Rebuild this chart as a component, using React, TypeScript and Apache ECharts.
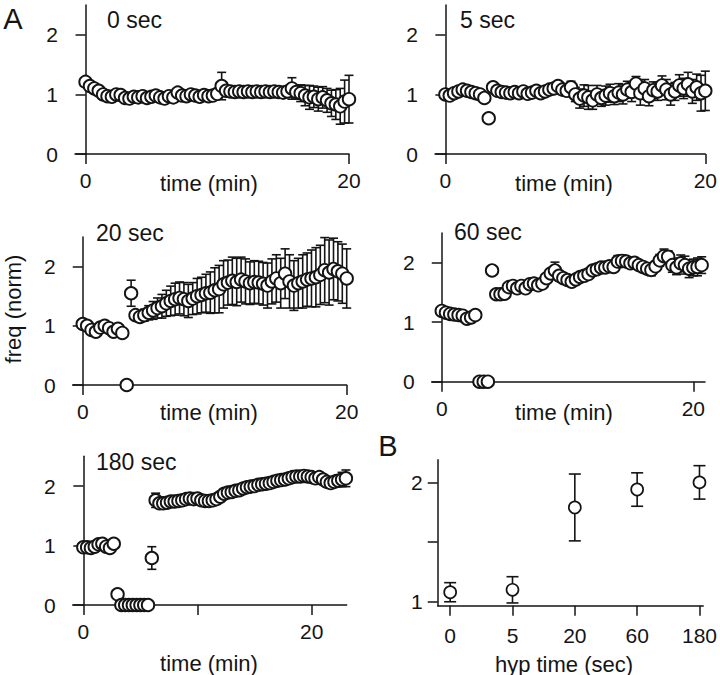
import React, { useEffect, useRef } from "react";
import * as echarts from "echarts";

// ---------- data ----------
const SAMPLE_MIN = 1 / 3; // one sample every 20 s

const TITLES = ["0 sec", "5 sec", "20 sec", "60 sec", "180 sec"];

const HYP0_VALUES = [
  1.21, 1.14, 1.10, 1.06, 1.00, 0.97, 0.96, 1.00, 0.99, 0.94,
  0.93, 0.96, 0.95, 0.97, 0.94, 0.96, 0.98, 0.95, 0.93, 0.97,
  0.95, 1.03, 0.98, 0.97, 1.00, 0.98, 0.96, 0.99, 0.97, 0.98,
  1.01, 1.14, 1.06, 1.05, 1.04, 1.05, 1.04, 1.05, 1.04, 1.05,
  1.04, 1.05, 1.04, 1.05, 1.04, 1.03, 1.05, 1.10, 1.04, 1.02,
  0.98, 0.95, 0.96, 0.92, 0.95, 0.90, 0.85, 0.83, 0.80, 0.88,
  0.92,
];
const HYP0_ERRORS = [
  0.05, 0.04, 0.04, 0.04, 0.04, 0.04, 0.04, 0.04, 0.04, 0.04,
  0.04, 0.04, 0.04, 0.04, 0.04, 0.04, 0.04, 0.04, 0.04, 0.04,
  0.04, 0.04, 0.04, 0.04, 0.04, 0.04, 0.04, 0.04, 0.04, 0.04,
  0.05, 0.23, 0.05, 0.04, 0.04, 0.04, 0.04, 0.04, 0.04, 0.04,
  0.04, 0.04, 0.04, 0.04, 0.05, 0.06, 0.08, 0.18, 0.12, 0.14,
  0.17, 0.20, 0.18, 0.20, 0.18, 0.20, 0.22, 0.25, 0.30, 0.36,
  0.40,
];

const HYP5_VALUES = [
  1.00, 0.98, 1.02, 1.05, 1.08, 1.06, 1.04, 1.02, 1.00, 0.94,
  0.60, 1.12, 1.06, 1.04, 1.03, 1.02, 1.04, 1.02, 1.05, 1.01,
  1.03, 1.06, 1.02, 1.05, 1.08, 1.10, 1.14, 1.08, 1.06, 1.12,
  1.00, 0.93, 0.98, 0.95, 0.90, 1.00, 0.94, 0.98, 1.02, 0.97,
  1.03, 1.00, 1.08, 1.04, 1.18, 1.02, 1.10, 0.97, 1.07, 1.05,
  1.15, 1.08, 1.00, 1.05, 1.15, 1.10, 1.17, 1.05, 1.12, 1.02,
  1.06,
];
const HYP5_ERRORS = [
  0.08, 0.05, 0.04, 0.04, 0.04, 0.04, 0.04, 0.04, 0.04, 0.04,
  0.02, 0.04, 0.04, 0.04, 0.04, 0.04, 0.04, 0.04, 0.04, 0.04,
  0.04, 0.04, 0.04, 0.05, 0.05, 0.06, 0.06, 0.07, 0.08, 0.10,
  0.12, 0.16, 0.18, 0.20, 0.15, 0.15, 0.14, 0.16, 0.15, 0.14,
  0.15, 0.16, 0.14, 0.16, 0.12, 0.20, 0.15, 0.16, 0.14, 0.15,
  0.16, 0.17, 0.18, 0.15, 0.18, 0.17, 0.20, 0.20, 0.22, 0.30,
  0.33,
];

const HYP20_VALUES = [
  1.03, 1.00, 0.93, 0.90, 0.97, 1.00, 0.96, 0.90, 0.95, 0.88,
  0.00, 1.55,
  1.18, 1.15, 1.18, 1.22, 1.26, 1.30, 1.33, 1.38, 1.42, 1.45,
  1.47, 1.45, 1.42, 1.46, 1.50, 1.52, 1.55, 1.56, 1.60, 1.62,
  1.70, 1.73, 1.76, 1.74, 1.78, 1.75, 1.72, 1.74, 1.73, 1.71,
  1.68, 1.75, 1.80, 1.72, 1.88, 1.75, 1.68, 1.72, 1.75, 1.78,
  1.80, 1.82, 1.86, 1.94, 1.90, 1.96, 1.92, 1.88, 1.80,
];
const HYP20_ERRORS = [
  0.06, 0.06, 0.06, 0.06, 0.06, 0.06, 0.06, 0.06, 0.06, 0.06,
  0.00, 0.22,
  0.07, 0.08, 0.10, 0.12, 0.15, 0.17, 0.20, 0.22, 0.25, 0.27,
  0.27, 0.28, 0.28, 0.27, 0.30, 0.30, 0.32, 0.35, 0.38, 0.40,
  0.40, 0.38, 0.40, 0.40, 0.38, 0.38, 0.36, 0.36, 0.36, 0.36,
  0.38, 0.38, 0.40, 0.42, 0.42, 0.45, 0.42, 0.42, 0.45, 0.45,
  0.48, 0.50, 0.50, 0.55, 0.55, 0.52, 0.50, 0.50, 0.50,
];

const HYP60_VALUES = [
  1.19, 1.16, 1.14, 1.13, 1.12, 1.11, 1.06, 1.08, 1.12,
  0.00, 0.00, 0.00, 1.87,
  1.47, 1.47, 1.48, 1.59, 1.61, 1.57, 1.61, 1.57, 1.64, 1.65,
  1.62, 1.65, 1.74, 1.82, 1.87, 1.78, 1.74, 1.71, 1.68, 1.72,
  1.76, 1.78, 1.81, 1.87, 1.89, 1.92, 1.92, 1.94, 1.93, 2.02,
  2.03, 2.02, 1.99, 2.00, 1.96, 1.93, 1.90, 1.88, 1.94, 2.04,
  2.11, 2.10, 1.96, 1.92, 1.99, 1.96, 1.90, 1.92, 1.93, 1.96,
];
const HYP60_ERRORS = [
  0.04, 0.04, 0.04, 0.04, 0.04, 0.04, 0.04, 0.04, 0.04,
  0.00, 0.00, 0.00, 0.04,
  0.04, 0.04, 0.04, 0.04, 0.04, 0.04, 0.04, 0.04, 0.04, 0.04,
  0.04, 0.04, 0.05, 0.06, 0.14, 0.06, 0.05, 0.04, 0.04, 0.04,
  0.04, 0.05, 0.05, 0.05, 0.06, 0.06, 0.07, 0.07, 0.08, 0.10,
  0.10, 0.08, 0.07, 0.06, 0.06, 0.07, 0.08, 0.10, 0.08, 0.10,
  0.12, 0.10, 0.12, 0.12, 0.14, 0.15, 0.15, 0.14, 0.15, 0.14,
];

const HYP180_VALUES = [
  0.97, 0.97, 0.96, 0.98, 1.02, 1.03, 0.98, 0.96, 1.03,
  0.18, 0.00, 0.00, 0.00, 0.00, 0.00, 0.00, 0.00, 0.00, 0.79,
  1.76, 1.71, 1.71, 1.72, 1.74, 1.74, 1.75, 1.76, 1.78, 1.79,
  1.78, 1.79, 1.76, 1.75, 1.75, 1.76, 1.78, 1.82, 1.87, 1.89,
  1.90, 1.92, 1.93, 1.96, 1.98, 1.99, 2.00, 2.02, 2.03, 2.04,
  2.05, 2.07, 2.09, 2.10, 2.11, 2.13, 2.15, 2.16, 2.16, 2.17,
  2.16, 2.15, 2.13, 2.15, 2.11, 2.07, 2.05, 2.07, 2.09, 2.11,
  2.13,
];
const HYP180_ERRORS = [
  0.04, 0.04, 0.04, 0.04, 0.04, 0.04, 0.04, 0.04, 0.04,
  0.04, 0.00, 0.00, 0.00, 0.00, 0.00, 0.00, 0.00, 0.00, 0.19,
  0.12, 0.08, 0.08, 0.08, 0.08, 0.08, 0.08, 0.08, 0.08, 0.08,
  0.08, 0.08, 0.08, 0.08, 0.08, 0.08, 0.08, 0.08, 0.08, 0.08,
  0.08, 0.08, 0.08, 0.08, 0.08, 0.08, 0.08, 0.08, 0.08, 0.08,
  0.08, 0.08, 0.08, 0.08, 0.08, 0.08, 0.08, 0.08, 0.08, 0.08,
  0.08, 0.08, 0.08, 0.08, 0.08, 0.08, 0.08, 0.09, 0.10, 0.12,
  0.14,
];

const B_CATEGORIES = ["0", "5", "20", "60", "180"];
const B_MEANS = [1.08, 1.1, 1.79, 1.94, 2.0];
const B_ERRORS = [0.08, 0.11, 0.28, 0.14, 0.14];

// ---------- layout / style ----------
const FONT = '"Liberation Sans", Arial, Helvetica, sans-serif';
const INK = "#141414";

const PANELS = [
  { values: HYP0_VALUES, errors: HYP0_ERRORS, grid: { left: 75, top: 5, width: 274, height: 149 }, xMin: -0.8, xMax: 20, xTicks: [0, 20], xLabels: [0, 20], title: [107, 20], name: [209, 183] },
  { values: HYP5_VALUES, errors: HYP5_ERRORS, grid: { left: 435, top: 5, width: 274, height: 149 }, xMin: -0.8, xMax: 20, xTicks: [0, 20], xLabels: [0, 20], title: [460, 20], name: [564, 183] },
  { values: HYP20_VALUES, errors: HYP20_ERRORS, grid: { left: 72.7, top: 237, width: 274, height: 148 }, xMin: -0.76, xMax: 20, xTicks: [0, 20], xLabels: [0, 20], title: [96, 233], name: [209, 412] },
  { values: HYP60_VALUES, errors: HYP60_ERRORS, grid: { left: 431.7, top: 233, width: 273.3, height: 148.7 }, xMin: -0.8, xMax: 20.93, xTicks: [0, 20], xLabels: [0, 20], title: [454, 232], name: [564, 412] },
  { values: HYP180_VALUES, errors: HYP180_ERRORS, grid: { left: 72.7, top: 456.3, width: 274, height: 148.7 }, xMin: -0.93, xMax: 23.07, xTicks: [0, 10, 20], xLabels: [0, 20], title: [96, 462], name: [209, 663] },
];

const B_GRID = { left: 437.7, top: 459.7, width: 269.7, height: 146 };

const lineStyle = { color: INK, width: 1.5 };
const labelStyle = { fontSize: 21, color: INK, fontFamily: FONT };

function errorBarSeries(data: number[][], xi: number, capHalf: number) {
  return {
    type: "custom",
    xAxisIndex: xi,
    yAxisIndex: xi,
    silent: true,
    z: 2,
    encode: { x: 0, y: 1 },
    data,
    renderItem: (_params: any, api: any) => {
      const x = api.value(0);
      const y = api.value(1);
      const e = api.value(2);
      if (!e) return { type: "group", children: [] };
      const top = api.coord([x, y + e]);
      const bot = api.coord([x, y - e]);
      const st = { stroke: INK, lineWidth: 1.6 };
      return {
        type: "group",
        children: [
          { type: "line", shape: { x1: top[0], y1: top[1], x2: bot[0], y2: bot[1] }, style: st },
          { type: "line", shape: { x1: top[0] - capHalf, y1: top[1], x2: top[0] + capHalf, y2: top[1] }, style: st },
          { type: "line", shape: { x1: bot[0] - capHalf, y1: bot[1], x2: bot[0] + capHalf, y2: bot[1] }, style: st },
        ],
      };
    },
  };
}

function scatterSeries(data: number[][], xi: number, size: number, bw: number) {
  return {
    type: "scatter",
    xAxisIndex: xi,
    yAxisIndex: xi,
    silent: true,
    z: 3,
    symbol: "circle",
    symbolSize: size,
    itemStyle: { color: "#ffffff", borderColor: INK, borderWidth: bw, opacity: 1 },
    emphasis: { disabled: true },
    data,
  };
}

function text(t: string, x: number, y: number, size: number, align = "center", rotation = 0) {
  return {
    type: "text",
    x,
    y,
    rotation,
    silent: true,
    style: { text: t, fontSize: size, fontFamily: FONT, fill: INK, align, verticalAlign: "middle" },
  };
}

function buildOption() {
  const grid: any[] = [];
  const xAxis: any[] = [];
  const yAxis: any[] = [];
  const series: any[] = [];
  const graphic: any[] = [];

  PANELS.forEach((p, i) => {
    grid.push({ ...p.grid, containLabel: false });
    xAxis.push({
      type: "value",
      gridIndex: i,
      min: p.xMin,
      max: p.xMax,
      axisLine: { show: true, onZero: true, lineStyle },
      axisTick: { show: true, length: 10, customValues: p.xTicks, lineStyle },
      axisLabel: { show: true, margin: 16, customValues: p.xLabels, ...labelStyle },
      splitLine: { show: false },
    });
    yAxis.push({
      type: "value",
      gridIndex: i,
      min: 0,
      max: 2.5,
      axisLine: { show: true, onZero: true, lineStyle },
      axisTick: { show: true, length: 10, customValues: [0, 1, 2], lineStyle },
      axisLabel: { show: true, margin: 17, customValues: [0, 1, 2], ...labelStyle },
      splitLine: { show: false },
    });
    const pts = p.values.map((v, k) => [k * SAMPLE_MIN, v, p.errors[k]]);
    series.push(errorBarSeries(pts, i, 4.5));
    series.push(scatterSeries(pts.map((d) => [d[0], d[1]]), i, 12.5, 1.9));
    graphic.push(text(TITLES[i], p.title[0], p.title[1], 23, "left"));
    graphic.push(text("time (min)", p.name[0], p.name[1], 22));
  });

  // Panel B
  const bi = PANELS.length;
  grid.push({ ...B_GRID, containLabel: false });
  xAxis.push({
    type: "value",
    gridIndex: bi,
    min: -0.2,
    max: 4.06,
    axisLine: { show: true, onZero: false, lineStyle },
    axisTick: { show: true, length: 10, customValues: [0, 1, 2, 3, 4], lineStyle },
    axisLabel: {
      show: true,
      margin: 19,
      customValues: [0, 1, 2, 3, 4],
      formatter: (v: number) => B_CATEGORIES[Math.round(v)] ?? "",
      ...labelStyle,
    },
    splitLine: { show: false },
  });
  yAxis.push({
    type: "value",
    gridIndex: bi,
    min: 0.967,
    max: 2.19,
    axisLine: { show: true, onZero: false, lineStyle },
    axisTick: { show: true, length: 10, customValues: [1, 1.5, 2], lineStyle },
    axisLabel: { show: true, margin: 15, customValues: [1, 2], ...labelStyle },
    splitLine: { show: false },
  });
  const bPts = B_MEANS.map((m, k) => [k, m, B_ERRORS[k]]);
  series.push(errorBarSeries(bPts, bi, 6));
  series.push(scatterSeries(bPts.map((d) => [d[0], d[1]]), bi, 12, 1.7));
  graphic.push(text("hyp time (sec)", 564, 664, 22));

  graphic.push(text("A", 13, 19, 29));
  graphic.push(text("B", 388, 446, 29));
  graphic.push(text("freq (norm)", 13, 309, 22, "center", Math.PI / 2));

  return {
    animation: false,
    backgroundColor: "#ffffff",
    grid,
    xAxis,
    yAxis,
    series,
    graphic,
  };
}

export default function App() {
  const ref = useRef<HTMLDivElement>(null);
  useEffect(() => {
    if (!ref.current) return;
    const chart = echarts.init(ref.current, undefined, { renderer: "svg" });
    chart.setOption(buildOption() as any);
    return () => chart.dispose();
  }, []);
  return (
    <div
      ref={ref}
      style={{ position: "fixed", left: 0, top: 0, width: 720, height: 675, background: "#fff" }}
    />
  );
}
